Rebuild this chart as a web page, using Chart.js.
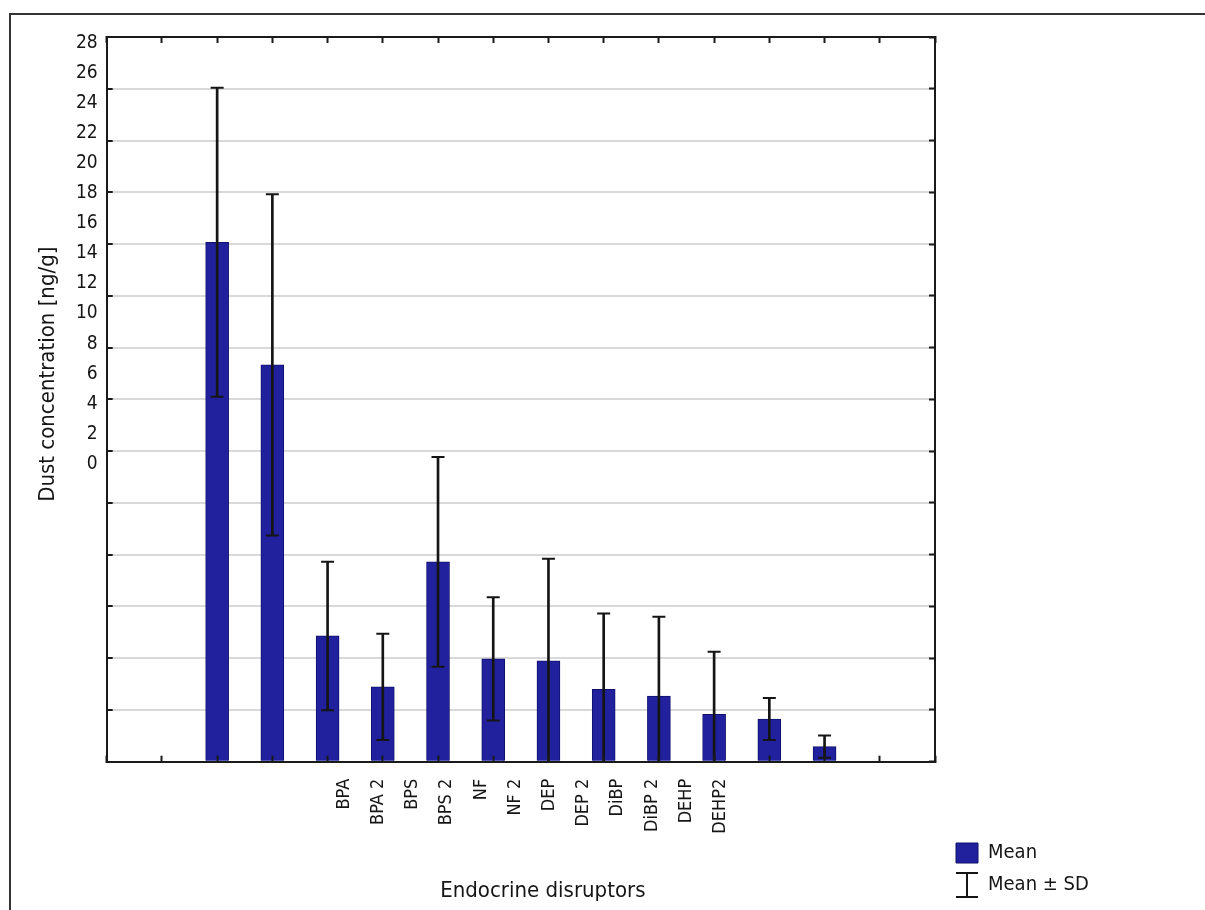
<!DOCTYPE html>
<html>
<head>
<meta charset="utf-8">
<script src="https://cdn.jsdelivr.net/npm/chart.js@4.4.1/dist/chart.umd.min.js"></script>
<style>
  html, body { margin: 0; padding: 0; background: #ffffff; overflow: hidden; }
  #frame { position: absolute; left: 9px; top: 13px; width: 1200px; height: 900px;
           border-top: 2px solid #333; border-left: 2px solid #333; }
  #c { position: absolute; left: 0; top: 0; }
</style>
</head>
<body>
<div id="frame"></div>
<canvas id="c" width="1205" height="910"></canvas>
<script>
// ---- data ----
const CATEGORIES = ['BPA', 'BPA 2', 'BPS', 'BPS 2', 'NF', 'NF 2', 'DEP', 'DEP 2', 'DiBP', 'DiBP 2', 'DEHP', 'DEHP2'];
const MEANS = [20.07, 15.33, 4.86, 2.89, 7.72, 3.97, 3.90, 2.80, 2.54, 1.83, 1.65, 0.58];
const SDS   = [5.97, 6.59, 2.87, 2.05, 4.05, 2.38, 3.94, 2.93, 3.06, 2.42, 0.81, 0.43];
const Y_TICK_LABELS = [0, 2, 4, 6, 8, 10, 12, 14, 16, 18, 20, 22, 24, 26, 28];
const Y_TITLE = 'Dust concentration [ng/g]';
const X_TITLE = 'Endocrine disruptors';
const LEGEND_LABELS = ['Mean', 'Mean \u00B1 SD'];

// ---- derived structures ----
const EMPTY_SLOTS = 2;   // empty category slots either side of the bars
const pad = arr => [...Array(EMPTY_SLOTS).fill(null), ...arr, ...Array(EMPTY_SLOTS).fill(null)];
const slotLabels = pad(CATEGORIES).map(v => v === null ? '' : v);
const highs = MEANS.map((m, i) => m + SDS[i]);
const lows  = MEANS.map((m, i) => m - SDS[i]);
const ranges = MEANS.map((m, i) => [lows[i], highs[i]]);

const FONT = "'Liberation Sans Narrow', 'DejaVu Sans Condensed', 'Arial Narrow', sans-serif";
const INK = '#151515';
const AXIS = '#1a1a1a';
const BAR_FILL = '#21219e';
const BAR_EDGE = '#10106c';

// I-beam symbol for the "Mean ± SD" legend entry
const ibeam = document.createElement('canvas');
ibeam.width = 24; ibeam.height = 28;
(function () {
  const g = ibeam.getContext('2d');
  g.strokeStyle = INK; g.lineWidth = 2;
  g.beginPath();
  g.moveTo(1, 2); g.lineTo(23, 2);
  g.moveTo(12, 2); g.lineTo(12, 26);
  g.moveTo(1, 26); g.lineTo(23, 26);
  g.stroke();
})();

// Fix the legend box width so the plot area ends where the reference's does
const legendWidthPlugin = {
  id: 'legendWidth',
  beforeLayout(chart) {
    const lg = chart.legend;
    if (lg && !lg.__fixed) {
      const orig = lg.fit;
      lg.fit = function () { orig.call(this); this.width = 261; };
      lg.__fixed = true;
    }
  }
};

const frameAxis = (position) => ({
  type: position === 'top' || position === 'bottom' ? 'category' : 'linear',
  position,
  ticks: { display: false, autoSkip: false },
  grid: { offset: false, drawOnChartArea: false, drawTicks: true, tickLength: -6, tickColor: AXIS, tickWidth: 2, z: 1 },
  border: { display: true, color: AXIS, width: 2, z: 1 }
});

new Chart(document.getElementById('c'), {
  data: {
    labels: slotLabels,
    datasets: [
      { type: 'line', label: 'hi', data: pad(highs), showLine: false, pointStyle: 'line',
        pointRadius: 6.5, pointBorderWidth: 2, pointBorderColor: INK, order: 0, xAxisID: 'x', yAxisID: 'y' },
      { type: 'line', label: 'lo', data: pad(lows), showLine: false, pointStyle: 'line',
        pointRadius: 6.5, pointBorderWidth: 2, pointBorderColor: INK, order: 0, xAxisID: 'x', yAxisID: 'y' },
      { type: 'bar', label: 'sd', data: pad(ranges), barThickness: 2, grouped: false,
        backgroundColor: INK, borderWidth: 0, clip: 0, order: 1, xAxisID: 'x', yAxisID: 'y' },
      { type: 'bar', label: LEGEND_LABELS[0], data: pad(MEANS), barThickness: 23, grouped: false,
        backgroundColor: BAR_FILL, borderColor: BAR_EDGE, borderWidth: 1, order: 2, xAxisID: 'x', yAxisID: 'y' }
    ]
  },
  options: {
    responsive: false,
    animation: false,
    devicePixelRatio: 1,
    events: [],
    layout: { padding: { top: 37, right: 0, bottom: 3, left: 0 } },
    scales: {
      x: Object.assign(frameAxis('bottom'), { offset: false, weight: 0, afterFit(s) { s.height = 0; } }),
      xTop: Object.assign(frameAxis('top'), { offset: false, afterFit(s) { s.height = 0; } }),
      xLab: {
        type: 'linear', position: 'bottom', weight: 1,
        min: -6.94, max: 17.28,
        afterBuildTicks(s) { s.ticks = CATEGORIES.map((_, i) => ({ value: i })); },
        ticks: {
          autoSkip: false, minRotation: 90, maxRotation: 90, padding: 9,
          color: INK, font: { family: FONT, size: 18 },
          callback: v => CATEGORIES[v] !== undefined ? CATEGORIES[v] : ''
        },
        grid: { display: false },
        border: { display: false },
        title: { display: true, text: '       ' + X_TITLE, color: INK,
                 font: { family: FONT, size: 22, lineHeight: 1.2 }, padding: { top: 0, bottom: 3 } },
        afterFit(s) { s.height = 145.3; }
      },
      y: {
        type: 'linear', position: 'left', weight: 0, min: 0, max: 28,
        ticks: { display: false, stepSize: 2 },
        grid: {
          color: c => (c.tick && (c.tick.value === 0 || c.tick.value === 28)) ? 'rgba(0,0,0,0)' : '#d9d9d9',
          lineWidth: 2, drawTicks: true, tickLength: -6, tickColor: AXIS, tickWidth: 2
        },
        border: { display: true, color: AXIS, width: 2, z: 1 },
        afterFit(s) { s.width = 0; }
      },
      yLab: {
        type: 'linear', position: 'left', weight: 1,
        min: -19.78, max: 28.37,
        afterBuildTicks(s) { s.ticks = Y_TICK_LABELS.map(v => ({ value: v })); },
        ticks: { autoSkip: false, padding: 1, color: INK, font: { family: FONT, size: 19 },
                 callback: v => String(v) },
        grid: { display: false },
        border: { display: false },
        title: { display: true, text: '        ' + Y_TITLE, color: INK,
                 font: { family: FONT, size: 22, lineHeight: 1.2 }, padding: { top: 35, bottom: 0 } },
        afterFit(s) { s.width = 106.7; }
      },
      yRight: Object.assign(frameAxis('right'), {
        min: 0, max: 28,
        ticks: { display: false, stepSize: 2 },
        afterFit(s) { s.width = 9; }
      })
    },
    plugins: {
      tooltip: { enabled: false },
      legend: {
        display: true, position: 'right', align: 'end',
        labels: {
          usePointStyle: true, pointStyleWidth: 22, boxWidth: 22, boxHeight: 22, padding: 12,
          color: INK, font: { family: FONT, size: 20 },
          generateLabels: () => [
            { text: LEGEND_LABELS[0], fillStyle: BAR_FILL, strokeStyle: BAR_EDGE, lineWidth: 1,
              pointStyle: 'rect', fontColor: INK, hidden: false, datasetIndex: 3 },
            { text: LEGEND_LABELS[1], fillStyle: 'rgba(0,0,0,0)', strokeStyle: 'rgba(0,0,0,0)', lineWidth: 0,
              pointStyle: ibeam, fontColor: INK, hidden: false, datasetIndex: 2 }
          ]
        }
      }
    }
  },
  plugins: [legendWidthPlugin]
});
</script>
</body>
</html>
